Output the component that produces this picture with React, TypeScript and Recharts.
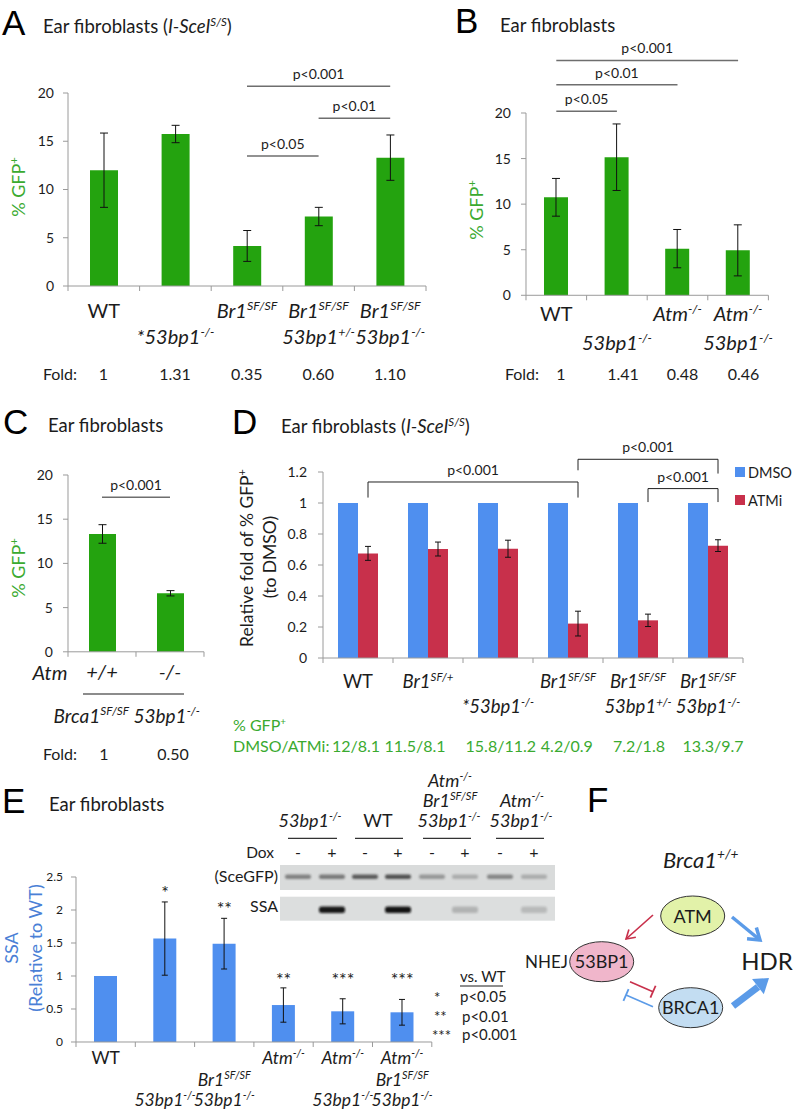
import React from 'react';
import { BarChart, Bar, XAxis, YAxis, ErrorBar, ReferenceLine } from 'recharts';

const F = 'Lato, "Open Sans", sans-serif';
const HEAD = '"Liberation Sans", Arial, sans-serif';
const AX = '#9a9a9a';
const INK = '#1c1c1c';
const GREEN = '#24a30f';
const GREEN_TXT = '#3aaa30';
const BLUE = '#4f8fef';
const RED = '#c8304b';
const E_LABEL = '#4a80d6';

// ---- A: ear fibroblasts, I-SceI S/S
const aCats = ['WT', '53bp1', 'Br1', 'Br1 53bp1+/-', 'Br1 53bp1-/-'];
const aGfp = [12.0, 15.75, 4.15, 7.2, 13.3];
const aErr = [3.85, 0.9, 1.6, 0.95, 2.35];
const aTicks = [
  ['WT', ''],
  ['', '~*53bp1|~^-/-'],
  ['~Br1|~^SF/SF', ''],
  ['~Br1|~^SF/SF', '~53bp1|~^+/-'],
  ['~Br1|~^SF/SF', '~53bp1|~^-/-'],
];
const aFold = ['1', '1.31', '0.35', '0.60', '1.10'];

// ---- B
const bCats = ['WT', '53bp1', 'Atm', 'Atm 53bp1'];
const bGfp = [10.75, 15.15, 5.12, 4.93];
const bErr = [2.07, 3.65, 2.1, 2.8];
const bTicks = [
  ['WT', ''],
  ['', '~53bp1|~^-/-'],
  ['~Atm|~^-/-', ''],
  ['~Atm|~^-/-', '~53bp1|~^-/-'],
];
const bFold = ['1', '1.41', '0.48', '0.46'];

// ---- C
const cCats = ['+/+', '-/-'];
const cGfp = [13.33, 6.62];
const cErr = [1.05, 0.3];
const cTicks = [['~+/+'], ['~-/-']];
const cFold = ['1', '0.50'];

// ---- D
const dCats = ['WT', 'Br1 SF/+', '53bp1', 'Br1 SF/SF', 'Br1 53bp1+/-', 'Br1 53bp1-/-'];
const dDmso = [1, 1, 1, 1, 1, 1];
const dDmsoErr = [0, 0, 0, 0, 0, 0];
const dAtmi = [0.675, 0.703, 0.705, 0.222, 0.243, 0.725];
const dAtmiErr = [0.045, 0.045, 0.055, 0.08, 0.04, 0.038];
const dTicks = [
  ['WT', ''],
  ['~Br1|~^SF/+', ''],
  ['', '~*53bp1|~^-/-'],
  ['~Br1|~^SF/SF', ''],
  ['~Br1|~^SF/SF', '~53bp1|~^+/-'],
  ['~Br1|~^SF/SF', '~53bp1|~^-/-'],
];
const dGfpText = ['12/8.1', '11.5/8.1', '15.8/11.2', '4.2/0.9', '7.2/1.8', '13.3/9.7'];

// ---- E
const eCats = ['WT', '53bp1', 'Br1 53bp1', 'Atm', 'Atm 53bp1', 'Atm Br1 53bp1'];
const eSsa = [1.0, 1.567, 1.49, 0.56, 0.465, 0.45];
const eErr = [0, 0.555, 0.384, 0.26, 0.19, 0.195];
const eStars = ['', '*', '**', '**', '***', '***'];
const eTicks = [
  ['WT', '', ''],
  ['', '', '~53bp1|~^-/-'],
  ['', '~Br1|~^SF/SF', '~53bp1|~^-/-'],
  ['~Atm|~^-/-', '', ''],
  ['~Atm|~^-/-', '', '~53bp1|~^-/-'],
  ['~Atm|~^-/-', '~Br1|~^SF/SF', '~53bp1|~^-/-'],
];

// gel inset
const gelDox = ['-', '+', '-', '+', '-', '+', '-', '+'];
const gelSce = [0.5, 0.55, 0.72, 0.78, 0.38, 0.26, 0.48, 0.26];
const gelSsa = [0, 0.95, 0, 0.97, 0, 0.2, 0, 0.17];

function Rich({ x, y, s, fs = 16, anchor = 'start', fill = INK, family = F }: any) {
  const segs = String(s).split('|');
  let raised = false;
  return (
    <text x={x} y={y} fontSize={fs} textAnchor={anchor} fill={fill} fontFamily={family}>
      {segs.map((g0, i) => {
        let g = g0;
        let it = false;
        let sup = false;
        while (g[0] === '~' || g[0] === '^') {
          if (g[0] === '~') it = true;
          else sup = true;
          g = g.slice(1);
        }
        const dy = sup && !raised ? -fs * 0.4 : !sup && raised ? fs * 0.4 : 0;
        raised = sup;
        return (
          <tspan key={i} dy={dy} fontStyle={it ? 'italic' : 'normal'} fontSize={sup ? fs * 0.62 : fs}>
            {g}
          </tspan>
        );
      })}
    </text>
  );
}

function VLabel({ x, y, s, fs, fill }: any) {
  return (
    <g transform={`rotate(-90, ${x}, ${y})`}>
      <Rich x={x} y={y + fs * 0.34} s={s} fs={fs} anchor="middle" fill={fill} />
    </g>
  );
}

function XTick(props: any) {
  const { x, y, index, labels, rows, bw, n, fs } = props;
  const lab: string[] = labels[index] || [];
  return (
    <g>
      <line x1={x - bw / 2} x2={x - bw / 2} y1={y} y2={y + 5} stroke={AX} />
      {index === n - 1 && <line x1={x + bw / 2} x2={x + bw / 2} y1={y} y2={y + 5} stroke={AX} />}
      {lab.map((s, r) => (s ? <Rich key={r} x={x} y={y + rows[r]} s={s} fs={fs} anchor="middle" /> : null))}
    </g>
  );
}

const YW = 50;
type Box = { x0: number; x1: number; yTop: number; y0: number; mTop: number; mBottom: number };
function frame(b: Box) {
  return {
    style: { position: 'absolute' as const, left: b.x0 - YW, top: b.yTop - b.mTop },
    width: b.x1 - b.x0 + YW + 10,
    height: b.y0 - b.yTop + b.mTop + b.mBottom,
    margin: { top: b.mTop, right: 10, bottom: 0, left: 0 },
  };
}

// the hidden index axis runs from the first to the last category index over the plot width;
// convert a position given in "category units" (centre of category i = i + 0.5)
const toIdx = (pos: number, n: number) => (pos * (n - 1)) / n;

function GfpChart({ box, cats, vals, errs, ticks, rows, yTicks, barSize, sig, fs, tickFs, tickMargin }: any) {
  const f = frame(box);
  const data = cats.map((name: string, i: number) => ({ name, ix: i, v: vals[i], e: errs[i] }));
  const n = cats.length;
  const bw = (box.x1 - box.x0) / n;
  return (
    <div style={f.style}>
      <BarChart width={f.width} height={f.height} data={data} margin={f.margin}>
        <XAxis
          dataKey="name"
          interval={0}
          height={box.mBottom}
          tickLine={false}
          tickSize={0}
          tickMargin={0}
          axisLine={{ stroke: AX }}
          tick={(p: any) => <XTick {...p} labels={ticks} rows={rows} bw={bw} n={n} fs={fs} />}
        />
        <XAxis xAxisId="n" type="number" dataKey="ix" domain={[0, n - 1]} allowDataOverflow hide />
        <YAxis
          width={YW}
          domain={[0, yTicks[yTicks.length - 1]]}
          ticks={yTicks}
          tickSize={5}
          tickMargin={tickMargin}
          axisLine={{ stroke: AX }}
          tickLine={{ stroke: AX }}
          tick={{ fontSize: tickFs, fill: INK, fontFamily: F }}
        />
        <Bar dataKey="v" fill={GREEN} barSize={barSize} isAnimationActive={false}>
          <ErrorBar dataKey="e" width={4} stroke="#111" strokeWidth={1} />
        </Bar>
        {sig.map((s: any, i: number) => (
          <ReferenceLine
            key={i}
            xAxisId="n"
            segment={[
              { x: toIdx(s.a, n), y: s.y },
              { x: toIdx(s.b, n), y: s.y },
            ]}
            ifOverflow="visible"
            stroke="#6e6e6e"
            strokeWidth={1.5}
            label={{ value: s.t, position: 'top', offset: 7, fontSize: 14, fill: INK, fontFamily: F }}
          />
        ))}
      </BarChart>
    </div>
  );
}

function DChart() {
  const box = { x0: 322.6, x1: 742.6, yTop: 472, y0: 658, mTop: 40, mBottom: 65 };
  const f = frame(box);
  const data = dCats.map((name, i) => ({
    name,
    ix: i,
    dmso: dDmso[i],
    dmsoErr: dDmsoErr[i],
    atmi: dAtmi[i],
    atmiErr: dAtmiErr[i],
  }));
  const n = dCats.length;
  const bw = (box.x1 - box.x0) / n;
  const brackets = [
    { a: 0.643, b: 3.643, y: 1.1355, l: 1.035, r: 1.035, t: 'p<0.001' },
    { a: 3.643, b: 5.643, y: 1.282, l: 1.211, r: 1.19, t: 'p<0.001' },
    { a: 4.643, b: 5.643, y: 1.093, l: 1.006, r: 1.006, t: 'p<0.001' },
  ];
  return (
    <div style={f.style}>
      <BarChart width={f.width} height={f.height} data={data} margin={f.margin} barGap={0}>
        <XAxis
          dataKey="name"
          interval={0}
          height={box.mBottom}
          tickLine={false}
          tickSize={0}
          tickMargin={0}
          axisLine={{ stroke: AX }}
          tick={(p: any) => <XTick {...p} labels={dTicks} rows={[30, 55]} bw={bw} n={n} fs={18.5} />}
        />
        <XAxis xAxisId="n" type="number" dataKey="ix" domain={[0, n - 1]} allowDataOverflow hide />
        <YAxis
          width={YW}
          domain={[0, 1.2]}
          ticks={[0, 0.2, 0.4, 0.6, 0.8, 1, 1.2]}
          tickSize={5}
          tickMargin={11}
          axisLine={{ stroke: AX }}
          tickLine={{ stroke: AX }}
          tick={{ fontSize: 14, fill: INK, fontFamily: F }}
        />
        <Bar dataKey="dmso" fill={BLUE} barSize={20} isAnimationActive={false}>
          <ErrorBar dataKey="dmsoErr" width={3} stroke="#111" strokeWidth={1} />
        </Bar>
        <Bar dataKey="atmi" fill={RED} barSize={20} isAnimationActive={false}>
          <ErrorBar dataKey="atmiErr" width={3} stroke="#111" strokeWidth={1} />
        </Bar>
        {brackets.map((s, i) => (
          <ReferenceLine
            key={'h' + i}
            xAxisId="n"
            segment={[
              { x: toIdx(s.a, n), y: s.y },
              { x: toIdx(s.b, n), y: s.y },
            ]}
            ifOverflow="visible"
            stroke="#222"
            strokeWidth={1}
            label={{ value: s.t, position: 'top', offset: 7, fontSize: 14, fill: INK, fontFamily: F }}
          />
        ))}
        {brackets.map((s, i) => (
          <ReferenceLine
            key={'l' + i}
            xAxisId="n"
            segment={[
              { x: toIdx(s.a, n), y: s.y },
              { x: toIdx(s.a, n), y: s.l },
            ]}
            ifOverflow="visible"
            stroke="#222"
            strokeWidth={1}
          />
        ))}
        {brackets.map((s, i) => (
          <ReferenceLine
            key={'r' + i}
            xAxisId="n"
            segment={[
              { x: toIdx(s.b, n), y: s.y },
              { x: toIdx(s.b, n), y: s.r },
            ]}
            ifOverflow="visible"
            stroke="#222"
            strokeWidth={1}
          />
        ))}
      </BarChart>
    </div>
  );
}

function EChart() {
  const box = { x0: 76, x1: 431.8, yTop: 876.7, y0: 1041.7, mTop: 20, mBottom: 75 };
  const f = frame(box);
  const data = eCats.map((name, i) => ({ name, v: eSsa[i], e: eErr[i] }));
  const n = eCats.length;
  const bw = (box.x1 - box.x0) / n;
  return (
    <div style={f.style}>
      <BarChart width={f.width} height={f.height} data={data} margin={f.margin}>
        <XAxis
          dataKey="name"
          interval={0}
          height={box.mBottom}
          tickLine={false}
          tickSize={0}
          tickMargin={0}
          axisLine={{ stroke: AX }}
          tick={(p: any) => <XTick {...p} labels={eTicks} rows={[22.5, 44, 64.5]} bw={bw} n={n} fs={17.5} />}
        />
        <YAxis
          width={YW}
          domain={[0, 2.5]}
          ticks={[0, 0.5, 1, 1.5, 2, 2.5]}
          tickSize={5}
          tickMargin={8}
          axisLine={{ stroke: AX }}
          tickLine={{ stroke: AX }}
          tick={{ fontSize: 12, fill: INK, fontFamily: F }}
        />
        <Bar dataKey="v" fill={BLUE} barSize={23} isAnimationActive={false}>
          <ErrorBar dataKey="e" width={3} stroke="#111" strokeWidth={1} />
        </Bar>
      </BarChart>
    </div>
  );
}

function head(x1: number, y1: number, x2: number, y2: number, len: number, ang: number) {
  const a = Math.atan2(y2 - y1, x2 - x1);
  return [
    [x2 - len * Math.cos(a - ang), y2 - len * Math.sin(a - ang)],
    [x2, y2],
    [x2 - len * Math.cos(a + ang), y2 - len * Math.sin(a + ang)],
  ]
    .map((p) => p.join(','))
    .join(' ');
}

function tBar(x1: number, y1: number, x2: number, y2: number, half: number) {
  const d = Math.hypot(x2 - x1, y2 - y1);
  const px = (-(y2 - y1) / d) * half;
  const py = ((x2 - x1) / d) * half;
  return { x1: x2 - px, y1: y2 - py, x2: x2 + px, y2: y2 + py };
}

function Overlay() {
  const aX = [103.5, 175.1, 246.7, 318.3, 389.9];
  const bX = [561, 623, 682.6, 743.5];
  const cX = [104, 173];
  const dX = [356, 415, 500.8, 566.8, 639, 713];
  const eX = [105.7, 165, 224.3, 283.6, 342.9, 402.2];
  const eStarY = [0, 899, 915, 986, 986, 986];
  const lanes = [298, 332, 365, 398, 432, 465, 500, 534];
  const rt = tBar(630, 981.7, 653, 991.7, 6.5);
  const bt = tBar(653, 1006.7, 626, 995, 6.5);
  return (
    <svg width={793} height={1112} style={{ position: 'absolute', left: 0, top: 0, pointerEvents: 'none' }}>
      <defs>
        <filter id="blur" x="-20%" y="-50%" width="140%" height="200%">
          <feGaussianBlur stdDeviation="0.9" />
        </filter>
      </defs>

      {/* A */}
      <text x={2} y={35} fontSize={35} fontFamily={HEAD} fill="#000">A</text>
      <Rich x={43} y={33} s="Ear fibroblasts (|~I-SceI|~^S/S|)" fs={18.5} />
      <VLabel x={19} y={187} s="% GFP|^+" fs={18} fill={GREEN_TXT} />
      <Rich x={60} y={380} s="Fold:" fs={16} anchor="middle" />
      {aFold.map((t, i) => (
        <Rich key={i} x={aX[i]} y={380} s={t} fs={16} anchor="middle" />
      ))}

      {/* B */}
      <text x={455} y={33} fontSize={35} fontFamily={HEAD} fill="#000">B</text>
      <Rich x={500} y={31.5} s="Ear fibroblasts" fs={18.5} />
      <VLabel x={476.7} y={210} s="% GFP|^+" fs={18} fill={GREEN_TXT} />
      <Rich x={522} y={380} s="Fold:" fs={16} anchor="middle" />
      {bFold.map((t, i) => (
        <Rich key={i} x={bX[i]} y={380} s={t} fs={16} anchor="middle" />
      ))}

      {/* C */}
      <text x={3} y={434} fontSize={35} fontFamily={HEAD} fill="#000">C</text>
      <Rich x={48} y={432} s="Ear fibroblasts" fs={18.5} />
      <VLabel x={19} y={568} s="% GFP|^+" fs={18} fill={GREEN_TXT} />
      <Rich x={50} y={680} s="~Atm" fs={20} anchor="middle" />
      <line x1={83} x2={184} y1={694} y2={694} stroke="#666" strokeWidth={1.5} />
      <Rich x={126.7} y={723} s="~Brca1|~^SF/SF|~ 53bp1|~^-/-" fs={19} anchor="middle" />
      <Rich x={60} y={760} s="Fold:" fs={16} anchor="middle" />
      {cFold.map((t, i) => (
        <Rich key={i} x={cX[i]} y={760} s={t} fs={16} anchor="middle" />
      ))}

      {/* D */}
      <text x={232} y={434} fontSize={35} fontFamily={HEAD} fill="#000">D</text>
      <Rich x={281} y={433} s="Ear fibroblasts (|~I-SceI|~^S/S|)" fs={18.5} />
      <VLabel x={247} y={558} s="Relative fold of % GFP|^+" fs={17.5} fill={INK} />
      <VLabel x={270} y={557} s="(to DMSO)" fs={17.5} fill={INK} />
      <rect x={735} y={467} width={10} height={10} fill={BLUE} />
      <Rich x={748} y={478} s="DMSO" fs={14.5} />
      <rect x={735} y={495} width={10} height={10} fill={RED} />
      <Rich x={748} y={506} s="ATMi" fs={14.5} />
      <Rich x={233} y={731} s="% GFP|^+" fs={16} fill={GREEN_TXT} />
      <Rich x={233} y={752} s="DMSO/ATMi:" fs={16} fill={GREEN_TXT} />
      {dGfpText.map((t, i) => (
        <Rich key={i} x={dX[i]} y={752} s={t} fs={16} fill={GREEN_TXT} anchor="middle" />
      ))}

      {/* E */}
      <text x={2} y={813} fontSize={35} fontFamily={HEAD} fill="#000">E</text>
      <Rich x={49} y={811} s="Ear fibroblasts" fs={18.5} />
      <VLabel x={12} y={948} s="SSA" fs={18} fill={E_LABEL} />
      <VLabel x={36} y={948} s="(Relative to WT)" fs={18} fill={E_LABEL} />
      {eStars.map((t, i) =>
        t ? <Rich key={i} x={eX[i]} y={eStarY[i]} s={t} fs={18} anchor="middle" /> : null,
      )}
      <Rich x={460} y={982} s="vs. WT" fs={15} />
      <line x1={460} x2={503} y1={986} y2={986} stroke={INK} strokeWidth={1} />
      <Rich x={434} y={1003} s="*" fs={15} />
      <Rich x={460} y={1002} s="p<0.05" fs={15} />
      <Rich x={434} y={1022} s="**" fs={15} />
      <Rich x={462} y={1022} s="p<0.01" fs={15} />
      <Rich x={432} y={1041} s="***" fs={15} />
      <Rich x={462} y={1040} s="p<0.001" fs={15} />

      {/* gel inset */}
      <Rich x={310} y={827} s="~53bp1|~^-/-" fs={18} anchor="middle" />
      <line x1={288} x2={337} y1={838.3} y2={838.3} stroke="#333" strokeWidth={1.2} />
      <Rich x={378} y={827} s="WT" fs={18} anchor="middle" />
      <line x1={355} x2={403} y1={838.3} y2={838.3} stroke="#333" strokeWidth={1.2} />
      <Rich x={450} y={787} s="~Atm|~^-/-" fs={18} anchor="middle" />
      <Rich x={450} y={807} s="~Br1|~^SF/SF" fs={18} anchor="middle" />
      <Rich x={449} y={827} s="~53bp1|~^-/-" fs={18} anchor="middle" />
      <line x1={423} x2={471} y1={838.3} y2={838.3} stroke="#333" strokeWidth={1.2} />
      <Rich x={522} y={807} s="~Atm|~^-/-" fs={18} anchor="middle" />
      <Rich x={521} y={827} s="~53bp1|~^-/-" fs={18} anchor="middle" />
      <line x1={496} x2={544} y1={838.3} y2={838.3} stroke="#333" strokeWidth={1.2} />
      <Rich x={274} y={858} s="Dox" fs={15.5} anchor="end" />
      {gelDox.map((t, i) => (
        <Rich key={i} x={lanes[i]} y={858} s={t} fs={16} anchor="middle" />
      ))}
      <Rich x={278} y={882} s="(SceGFP)" fs={16} anchor="end" />
      <Rich x={278} y={912} s="SSA" fs={16} anchor="end" />
      <rect x={280} y={865} width={275} height={25} fill="#d9dbdb" />
      <rect x={280} y={896.7} width={275} height={24} fill="#dcdede" />
      {gelSce.map((a, i) => (
        <rect key={i} x={lanes[i] - 13} y={874.5} width={26} height={4.5} rx={2} fill="#2a2a2a" opacity={a} filter="url(#blur)" />
      ))}
      {gelSsa.map((a, i) =>
        a > 0 ? (
          <rect key={i} x={lanes[i] - 13} y={906.5} width={26} height={6.5} rx={2.5} fill="#111" opacity={a} filter="url(#blur)" />
        ) : null,
      )}

      {/* F */}
      <text x={587} y={812} fontSize={35} fontFamily={HEAD} fill="#000">F</text>
      <Rich x={663} y={868} s="~Brca1|~^+/+" fs={22} />
      <line x1={653} y1={915} x2={626} y2={939} stroke={RED} strokeWidth={1.6} />
      <polyline points={head(653, 915, 626, 939, 10, 0.55)} fill="none" stroke={RED} strokeWidth={1.6} />
      <line x1={732} y1={917} x2={760} y2={940} stroke="#5b9be8" strokeWidth={3.5} />
      <polyline points={head(732, 917, 760, 940, 13, 0.6)} fill="none" stroke="#5b9be8" strokeWidth={3.5} />
      <line x1={733} y1={1006} x2={758} y2={987} stroke="#5b9be8" strokeWidth={7} />
      <polygon points={head(733, 1006, 769, 978, 17, 0.6)} fill="#5b9be8" />
      <line x1={630} y1={981.7} x2={653} y2={991.7} stroke={RED} strokeWidth={1.6} />
      <line {...rt} stroke={RED} strokeWidth={1.8} />
      <line x1={653} y1={1006.7} x2={626} y2={995} stroke="#5b9be8" strokeWidth={1.6} />
      <line {...bt} stroke="#5b9be8" strokeWidth={1.8} />
      <ellipse cx={692.7} cy={916} rx={32} ry={20} fill="#e2f2a9" stroke="#333" strokeWidth={1} />
      <Rich x={692.7} y={922.5} s="ATM" fs={18} anchor="middle" />
      <ellipse cx={601.7} cy={961.7} rx={32} ry={20} fill="#f0b6cb" stroke="#333" strokeWidth={1} />
      <Rich x={601.7} y={968} s="53BP1" fs={18} anchor="middle" />
      <ellipse cx={690.7} cy={1007.7} rx={32} ry={20} fill="#c3ddf2" stroke="#333" strokeWidth={1} />
      <Rich x={690.7} y={1014} s="BRCA1" fs={18} anchor="middle" />
      <Rich x={568} y={968} s="NHEJ" fs={17} anchor="end" />
      <Rich x={767} y={970} s="HDR" fs={24} anchor="middle" />
    </svg>
  );
}

export default function App() {
  return (
    <div
      style={{
        position: 'absolute',
        left: 0,
        top: 0,
        width: 793,
        height: 1112,
        overflow: 'hidden',
        background: '#fff',
      }}
    >
      <GfpChart
        box={{ x0: 67.7, x1: 425.7, yTop: 92.7, y0: 285.7, mTop: 35, mBottom: 65 }}
        cats={aCats}
        vals={aGfp}
        errs={aErr}
        ticks={aTicks}
        rows={[32, 58]}
        yTicks={[0, 5, 10, 15, 20]}
        barSize={28}
        fs={20}
        tickFs={14}
        tickMargin={9}
        sig={[
          { a: 2.5, b: 4.5, y: 20.69, t: 'p<0.001' },
          { a: 3.5, b: 4.5, y: 17.38, t: 'p<0.01' },
          { a: 2.5, b: 3.5, y: 13.47, t: 'p<0.05' },
        ]}
      />
      <GfpChart
        box={{ x0: 525.7, x1: 768.1, yTop: 112.7, y0: 295, mTop: 80, mBottom: 60 }}
        cats={bCats}
        vals={bGfp}
        errs={bErr}
        ticks={bTicks}
        rows={[26, 54.5]}
        yTicks={[0, 5, 10, 15, 20]}
        barSize={24}
        fs={20}
        tickFs={14}
        tickMargin={10}
        sig={[
          { a: 0.5, b: 3.5, y: 25.77, t: 'p<0.001' },
          { a: 0.5, b: 2.5, y: 23.1, t: 'p<0.01' },
          { a: 0.5, b: 1.5, y: 20.18, t: 'p<0.05' },
        ]}
      />
      <GfpChart
        box={{ x0: 68.3, x1: 204.3, yTop: 474.7, y0: 651.5, mTop: 25, mBottom: 35 }}
        cats={cCats}
        vals={cGfp}
        errs={cErr}
        ticks={cTicks}
        rows={[27.5]}
        yTicks={[0, 5, 10, 15, 20]}
        barSize={27}
        fs={20}
        tickFs={14}
        tickMargin={10}
        sig={[{ a: 0.5, b: 1.5, y: 17.48, t: 'p<0.001' }]}
      />
      <DChart />
      <EChart />
      <Overlay />
    </div>
  );
}
